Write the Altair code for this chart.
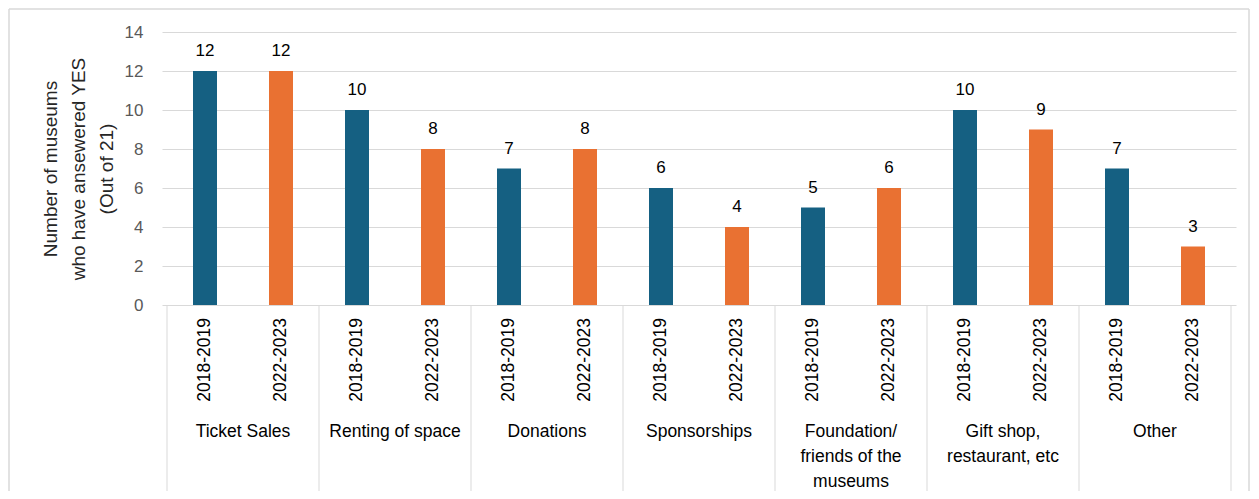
import altair as alt
import pandas as pd

groups = ["Ticket Sales", "Renting of space", "Donations", "Sponsorships",
          "Foundation/\nfriends of the\nmuseums", "Gift shop,\nrestaurant, etc", "Other"]
periods = ["2018-2019", "2022-2023"]
v2018 = [12, 10, 7, 6, 5, 10, 7]
v2022 = [12, 8, 8, 4, 6, 9, 3]
colors = ["#156082", "#E97132"]
y_ticks = [0, 2, 4, 6, 8, 10, 12, 14]

rows = []
for g, name in enumerate(groups):
    for i, (p, vals) in enumerate(zip(periods, [v2018, v2022])):
        rows.append({"group": name, "period": p, "value": vals[g], "pos": 2 * g + i + 0.5})
df = pd.DataFrame(rows)
gdf = pd.DataFrame({"group": groups, "gpos": [2 * g + 1 for g in range(len(groups))]})
sep = pd.DataFrame({"s": [2 * g for g in range(len(groups) + 1)]})

W, H = 1074, 273
FONT = "Liberation Sans"

xs = alt.Scale(domain=[0, 2 * len(groups)], nice=False, zero=False)
ys = alt.Scale(domain=[0, 14], nice=False)

yaxis = alt.Axis(
    values=y_ticks, grid=True, gridColor="#d9d9d9", domain=False, ticks=False,
    labelColor="#595959", labelFontSize=17, labelFont=FONT, labelPadding=19,
    labelOverlap=False,
    title=["Number of museums", "who have ansewered YES", "(Out of 21)"],
    titleFont=FONT, titleFontSize=19, titleFontWeight="normal", titleColor="#262626",
    titlePadding=8, titleLineHeight=28)

one = pd.DataFrame({"a": [0]})
bcol = "#d9d9d9"
border_top = alt.Chart(one).mark_rule(color=bcol, strokeWidth=1.5).encode(
    x=alt.value(-153), x2=alt.value(W + 13), y=alt.value(-23))
border_left = alt.Chart(one).mark_rule(color=bcol, strokeWidth=1.5).encode(
    x=alt.value(-153), y=alt.value(-23), y2=alt.value(H + 200))
border_right = alt.Chart(one).mark_rule(color=bcol, strokeWidth=1.5).encode(
    x=alt.value(W + 13), y=alt.value(-23), y2=alt.value(H + 200))

bars = alt.Chart(df).mark_bar(width=24).encode(
    x=alt.X("pos:Q", scale=xs, axis=None),
    y=alt.Y("value:Q", scale=ys, axis=yaxis),
    color=alt.Color("period:N", scale=alt.Scale(domain=periods, range=colors), legend=None),
)

labels = alt.Chart(df).mark_text(fontSize=17, font=FONT, color="#000000",
                                 baseline="middle", dy=-20).encode(
    x=alt.X("pos:Q", scale=xs, axis=None), y=alt.Y("value:Q", scale=ys, axis=yaxis),
    text="value:Q")

year_labels = alt.Chart(df).mark_text(fontSize=17.5, font=FONT, color="#000000", angle=270,
                                      align="right", baseline="middle").encode(
    x=alt.X("pos:Q", scale=xs, axis=None), y=alt.value(H + 13), text="period:N")

group_labels = alt.Chart(gdf).mark_text(fontSize=17.5, font=FONT, color="#000000",
                                        baseline="middle", lineBreak="\n",
                                        lineHeight=25).encode(
    x=alt.X("gpos:Q", scale=xs, axis=None), y=alt.value(H + 127), text="group:N")

seps = alt.Chart(sep).mark_rule(color="#d9d9d9", strokeWidth=1).encode(
    x=alt.X("s:Q", scale=xs, axis=None), y=alt.value(H), y2=alt.value(H + 190))

chart = alt.layer(border_top, border_left, border_right, bars, labels, year_labels,
                  group_labels, seps).properties(
    width=W, height=H,
    autosize=alt.AutoSizeParams(type="none"),
    padding={"left": 154, "top": 24, "right": 15, "bottom": 186},
).configure_view(stroke=None)

chart.save("out.html", embed_options={"renderer": "svg", "actions": False})
